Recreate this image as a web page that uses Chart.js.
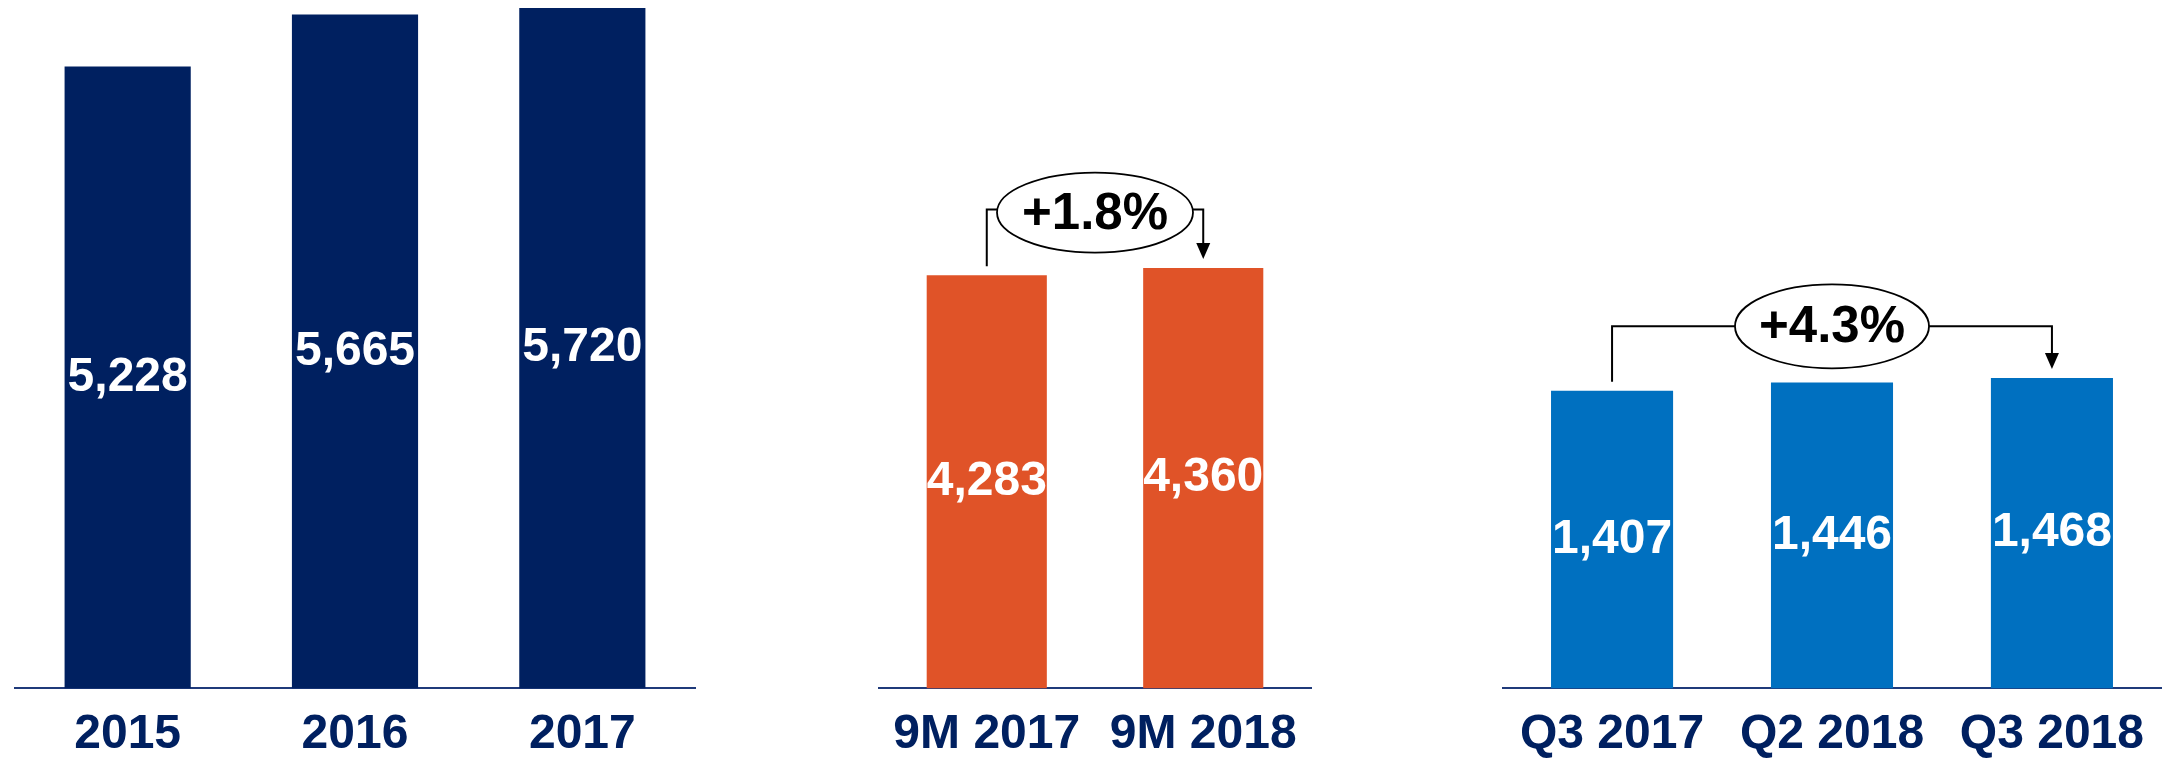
<!DOCTYPE html>
<html>
<head>
<meta charset="utf-8">
<script src="https://cdn.jsdelivr.net/npm/chart.js@4.4.0/dist/chart.umd.min.js"></script>
<style>
    body {
        margin: 0;
        background: #ffffff;
        width: 2162px;
        height: 759px;
        position: relative;
        overflow: hidden;
    }
    canvas {
        position: absolute;
        top: 0;
    }
</style>
</head>
<body>
<canvas id="annualChart" width="682" height="782" style="left:14px"></canvas>
<canvas id="nineMonthChart" width="438" height="782" style="left:876px"></canvas>
<canvas id="quarterChart" width="660" height="782" style="left:1502px"></canvas>
<script>
"use strict";

//

const annualLabels = ["2015", "2016", "2017"];
const annualValues = [5228, 5665, 5720];

const nineMonthLabels = ["9M 2017", "9M 2018"];
const nineMonthValues = [4283, 4360];
const nineMonthGrowth = "+1.8%";

const quarterLabels = ["Q3 2017", "Q2 2018", "Q3 2018"];
const quarterValues = [1407, 1446, 1468];
const quarterGrowth = "+4.3%";

const fontFamily = "'Liberation Sans', Arial, sans-serif";
const navy = "#002060";

// white value in the middle of every bar
const valueLabels = {
    id: "valueLabels",
    afterDatasetsDraw(chart) {
        const ctx = chart.ctx;
        const meta = chart.getDatasetMeta(0);
        const values = chart.data.datasets[0].data;
        ctx.save();
        ctx.fillStyle = "#ffffff";
        ctx.font = "bold 48px " + fontFamily;
        ctx.textAlign = "center";
        ctx.textBaseline = "middle";
        meta.data.forEach((bar, i) => {
            ctx.fillText(values[i].toLocaleString("en-US"), bar.x, (bar.y + bar.base) / 2);
        });
        ctx.restore();
    },
};

// growth bracket with the oval label
const growthBracket = {
    id: "growthBracket",
    afterDatasetsDraw(chart, args, opts) {
        if (!opts.text) return;
        const ctx = chart.ctx;
        const meta = chart.getDatasetMeta(0);
        const a = meta.data[opts.from];
        const b = meta.data[opts.to];
        const lineY = chart.scales.y.getPixelForValue(opts.level);
        const cx = (a.x + b.x) / 2;
        const cy = lineY + opts.ovalShift;
        const gap = 9;

        ctx.save();
        ctx.strokeStyle = "#000000";
        ctx.fillStyle = "#000000";
        ctx.lineWidth = 2;

        ctx.beginPath();
        ctx.moveTo(a.x, a.y - gap);
        ctx.lineTo(a.x, lineY);
        ctx.lineTo(cx - opts.rx, lineY);
        ctx.moveTo(cx + opts.rx, lineY);
        ctx.lineTo(b.x, lineY);
        ctx.lineTo(b.x, b.y - gap - 14);
        ctx.stroke();

        ctx.beginPath();
        ctx.moveTo(b.x - 7, b.y - gap - 16);
        ctx.lineTo(b.x + 7, b.y - gap - 16);
        ctx.lineTo(b.x, b.y - gap);
        ctx.closePath();
        ctx.fill();

        ctx.beginPath();
        ctx.ellipse(cx, cy, opts.rx, opts.ry, 0, 0, Math.PI * 2);
        ctx.fillStyle = "#ffffff";
        ctx.fill();
        ctx.lineWidth = 1.8;
        ctx.stroke();

        ctx.fillStyle = "#000000";
        ctx.font = "bold 51px " + fontFamily;
        ctx.textAlign = "center";
        ctx.textBaseline = "middle";
        ctx.fillText(opts.text, cx, cy + 2);
        ctx.restore();
    },
};

const makeChart = (id, labels, values, color, yMax, bracket) => {
    const ctx = document.getElementById(id).getContext("2d");

    new Chart(ctx, {
        type: "bar",
        data: {
            labels: labels,
            datasets: [
                {
                    data: values,
                    backgroundColor: color,
                    barPercentage: 0.555,
                    categoryPercentage: 1,
                },
            ],
        },
        options: {
            responsive: false,
            animation: false,
            devicePixelRatio: 1,
            layout: { padding: 0 },
            plugins: {
                legend: { display: false },
                tooltip: { enabled: false },
                growthBracket: bracket || {},
            },
            scales: {
                x: {
                    grid: { display: false, drawTicks: false },
                    border: { color: "#1F3A7A", width: 2 },
                    ticks: {
                        color: navy,
                        padding: 18,
                        font: { family: fontFamily, size: 48, weight: "bold" },
                    },
                },
                y: {
                    display: false,
                    min: 0,
                    max: yMax,
                },
            },
        },
        plugins: [valueLabels, growthBracket],
    });
};

makeChart("annualChart", annualLabels, annualValues, navy, 5787);

makeChart("nineMonthChart", nineMonthLabels, nineMonthValues, "#E05328", 7138, {
    from: 0,
    to: 1,
    level: 4965,
    text: nineMonthGrowth,
    rx: 98,
    ry: 40,
    ovalShift: 3,
});

makeChart("quarterChart", quarterLabels, quarterValues, "#0070C0", 3255, {
    from: 0,
    to: 2,
    level: 1712,
    text: quarterGrowth,
    rx: 97,
    ry: 42,
    ovalShift: 0,
});
</script>
</body>
</html>
